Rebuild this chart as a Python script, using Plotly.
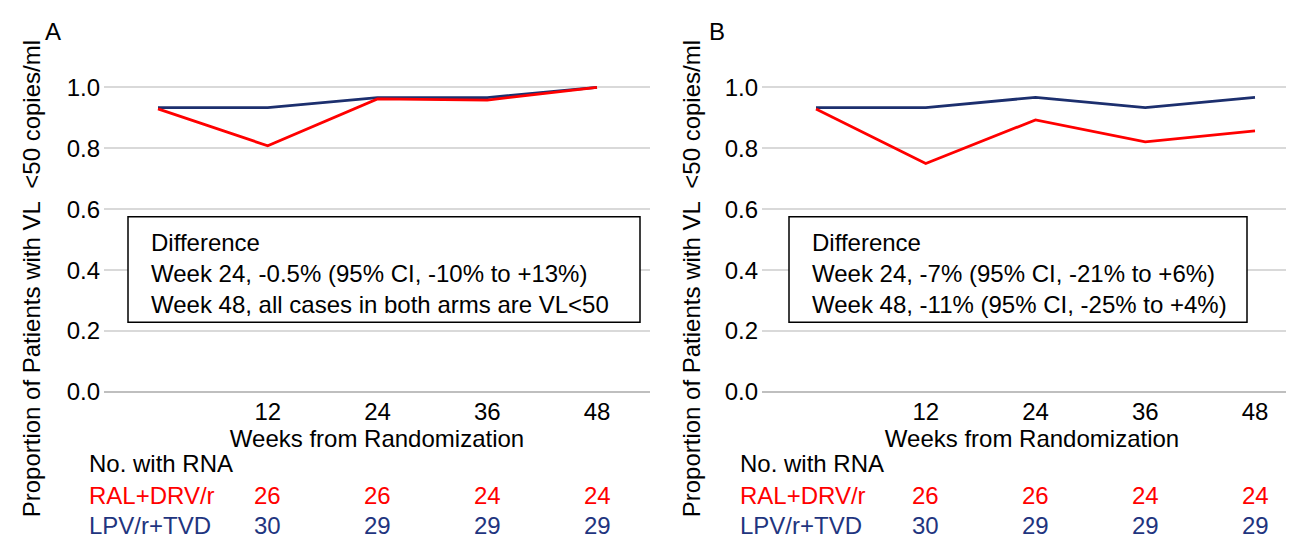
import plotly.graph_objects as go

# ---------------- data ----------------
weeks = [0, 12, 24, 36, 48]
tick_weeks = [12, 24, 36, 48]
tick_labels = ["12", "24", "36", "48"]

a_ral = [0.929, 0.808, 0.962, 0.958, 1.0]
a_lpv = [0.933, 0.933, 0.966, 0.966, 1.0]
b_ral = [0.929, 0.750, 0.893, 0.821, 0.857]
b_lpv = [0.933, 0.933, 0.967, 0.933, 0.967]

ral_n = [26, 26, 24, 24]
lpv_n = [30, 29, 29, 29]

box_a = ["Difference",
         "Week 24, -0.5% (95% CI, -10% to +13%)",
         "Week 48, all cases in both arms are VL<50"]
box_b = ["Difference",
         "Week 24, -7% (95% CI, -21% to +6%)",
         "Week 48, -11% (95% CI, -25% to +4%)"]

y_ticks = [0.0, 0.2, 0.4, 0.6, 0.8, 1.0]

# ---------------- style ----------------
W, H = 1294, 541
RED = "#FF0000"
NAVY = "#1C2F6E"
NAVY_TXT = "#1F3580"
FONT = "Liberation Sans, Arial, sans-serif"
FS = 24


def px(x):
    return x / W


def py(y):
    return 1 - y / H


fig = go.Figure()

for ral, lpv, xa, ya in [(a_ral, a_lpv, "x", "y"), (b_ral, b_lpv, "x2", "y2")]:
    fig.add_trace(go.Scatter(x=weeks, y=lpv, mode="lines", xaxis=xa, yaxis=ya,
                             line=dict(color=NAVY, width=2.8), showlegend=False))
    fig.add_trace(go.Scatter(x=weeks, y=ral, mode="lines", xaxis=xa, yaxis=ya,
                             line=dict(color=RED, width=2.8), showlegend=False))

scale = (589 - 150) / 48.0  # px per week
dom_a = (96, 642)
dom_b = (754, 1294)
first_a, first_b = 150, 808

ydom = [py(393.5), py(50)]

common_x = dict(showgrid=False, zeroline=False, showline=False, ticks="",
                tickvals=tick_weeks, ticktext=tick_labels, ticklabelstandoff=3,
                tickfont=dict(family=FONT, size=FS, color="black"),
                title=dict(text="Weeks from Randomization",
                           font=dict(family=FONT, size=FS, color="black"),
                           standoff=2))
common_y = dict(range=[0, 1.1], tickvals=y_ticks,
                ticktext=["%.1f" % v for v in y_ticks],
                showgrid=True, gridcolor="#D9D9D9", gridwidth=2,
                zeroline=True, zerolinecolor="#BFBFBF", zerolinewidth=1.5,
                showline=False, ticks="", ticklabelstandoff=3,
                tickfont=dict(family=FONT, size=FS, color="black"),
                domain=ydom)

fig.update_layout(
    width=W, height=H, margin=dict(l=0, r=0, t=0, b=0),
    paper_bgcolor="white", plot_bgcolor="white",
    font=dict(family=FONT, size=FS, color="black"),
    xaxis=dict(domain=[px(dom_a[0]), px(dom_a[1])],
               range=[-(first_a - dom_a[0]) / scale, (dom_a[1] - first_a) / scale],
               anchor="y", **common_x),
    xaxis2=dict(domain=[px(dom_b[0]), px(dom_b[1])],
                range=[-(first_b - dom_b[0]) / scale, (dom_b[1] - first_b) / scale],
                anchor="y2", **common_x),
    yaxis=dict(anchor="x", **common_y),
    yaxis2=dict(anchor="x2", **common_y),
)

annots = []
shapes = []
panels = [
    dict(letter="A", letter_x=45, title_x=23, box=(120, 632), text_x=141,
         rows_x=79, xref="x", lines=box_a),
    dict(letter="B", letter_x=709, title_x=683, box=(781, 1239), text_x=802,
         rows_x=730, xref="x2", lines=box_b),
]
for p in panels:
    annots.append(dict(text=p["letter"], x=px(p["letter_x"]), y=py(24),
                       xref="paper", yref="paper", showarrow=False,
                       xanchor="center", yanchor="middle",
                       font=dict(family=FONT, size=FS, color="black")))
    annots.append(dict(text="Proportion of Patients with VL \u00a0<50 copies/ml",
                       x=px(p["title_x"]), y=py(278), xref="paper", yref="paper",
                       textangle=-90, showarrow=False, xanchor="center",
                       yanchor="middle",
                       font=dict(family=FONT, size=FS, color="black")))
    shapes.append(dict(type="rect", xref="paper", yref="paper",
                       x0=px(p["box"][0]), x1=px(p["box"][1]),
                       y0=py(322), y1=py(214), fillcolor="white",
                       line=dict(color="black", width=1.5), layer="above"))
    annots.append(dict(text="<br>".join(p["lines"]), x=px(p["text_x"]), y=py(224),
                       xref="paper", yref="paper", showarrow=False,
                       xanchor="left", yanchor="top", align="left",
                       font=dict(family=FONT, size=FS, color="black")))
    annots.append(dict(text="No. with RNA", x=px(p["rows_x"]), y=py(467),
                       xref="paper", yref="paper", showarrow=False,
                       xanchor="left", yanchor="middle",
                       font=dict(family=FONT, size=FS, color="black")))
    annots.append(dict(text="RAL+DRV/r", x=px(p["rows_x"]), y=py(500),
                       xref="paper", yref="paper", showarrow=False,
                       xanchor="left", yanchor="middle",
                       font=dict(family=FONT, size=FS, color=RED)))
    annots.append(dict(text="LPV/r+TVD", x=px(p["rows_x"]), y=py(530),
                       xref="paper", yref="paper", showarrow=False,
                       xanchor="left", yanchor="middle",
                       font=dict(family=FONT, size=FS, color=NAVY_TXT)))
    for wk, rn, ln in zip(tick_weeks, ral_n, lpv_n):
        annots.append(dict(text=str(rn), x=wk, y=py(500), xref=p["xref"],
                           yref="paper", showarrow=False, xanchor="center",
                           yanchor="middle",
                           font=dict(family=FONT, size=FS, color=RED)))
        annots.append(dict(text=str(ln), x=wk, y=py(530), xref=p["xref"],
                           yref="paper", showarrow=False, xanchor="center",
                           yanchor="middle",
                           font=dict(family=FONT, size=FS, color=NAVY_TXT)))

fig.update_layout(annotations=annots, shapes=shapes)
fig.write_html("out.html")
